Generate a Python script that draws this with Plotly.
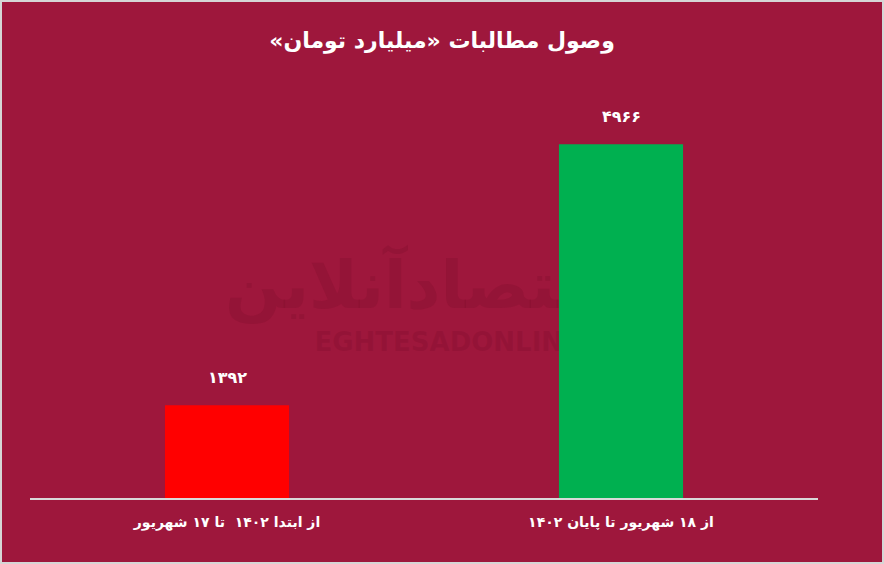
import plotly.graph_objects as go

# ---- data ----
categories = ["از ابتدا ۱۴۰۲  تا ۱۷ شهریور", "از ۱۸ شهریور تا پایان ۱۴۰۲"]
values = [1392, 4966]
bar_colors = ["#FF0000", "#00B050"]
title_text = "وصول مطالبات «میلیارد تومان»"
watermark_fa = "اقتصادآنلاین"
watermark_en = "EGHTESADONLINE"

FA_DIGITS = str.maketrans("0123456789", "۰۱۲۳۴۵۶۷۸۹")
def fa(n):
    return str(n).translate(FA_DIGITS)

RLM = "\u200f"
BG = "#9E173C"
FONT = "DejaVu Sans"
W, H = 884, 564
ML, MR, MT, MB = 30, 66, 100, 66
pw, ph = W - ML - MR, H - MT - MB

fig = go.Figure()

# watermark (behind bars, on the base subplot)
fig.add_trace(go.Scatter(
    x=[0.5, 0.53], y=[0.52, 0.385], mode="text",
    text=["<b>" + watermark_fa + "</b>", "<b>" + watermark_en + "</b>"],
    textfont=dict(family=FONT, size=[66, 26], color="rgba(120,10,40,0.25)"),
    hoverinfo="skip", showlegend=False, xaxis="x", yaxis="y",
))

# bars (overlay subplot, drawn above)
fig.add_trace(go.Bar(
    x=categories, y=values, marker=dict(color=bar_colors, line=dict(width=0)),
    xaxis="x2", yaxis="y2", showlegend=False, hoverinfo="skip",
))

for c, v in zip(categories, values):
    fig.add_annotation(
        x=c, y=v, xref="x2", yref="y2", text="<b>" + fa(v) + "</b>",
        showarrow=False, yshift=28, yanchor="middle",
        font=dict(family=FONT, size=16, color="white"),
    )

# border around the whole image
fig.add_shape(
    type="rect", xref="paper", yref="paper",
    x0=(-ML + 1) / pw, x1=(pw + MR - 1) / pw,
    y0=(-MB + 1) / ph, y1=(ph + MT - 1) / ph,
    line=dict(color="#D6D6D6", width=2), fillcolor="rgba(0,0,0,0)", layer="above",
)

fig.update_layout(
    width=W, height=H,
    margin=dict(l=ML, r=MR, t=MT, b=MB, pad=0),
    paper_bgcolor=BG, plot_bgcolor=BG,
    title=dict(text="<b>" + RLM + title_text + RLM + "</b>", x=0.5, xanchor="center",
               xref="container", y=1 - 40 / H, yref="container", yanchor="middle",
               font=dict(family=FONT, size=22, color="white")),
    xaxis=dict(range=[0, 1], visible=False, fixedrange=True),
    yaxis=dict(range=[0, 1], visible=False, fixedrange=True),
    xaxis2=dict(overlaying="x", anchor="y2", type="category",
                showline=True, linecolor="#D9D9D9", linewidth=2,
                showgrid=False, zeroline=False, ticks="",
                ticklabelstandoff=10,
                tickvals=categories,
                ticktext=["<b>" + RLM + c + RLM + "</b>" for c in categories],
                tickfont=dict(family=FONT, size=14, color="white")),
    yaxis2=dict(overlaying="y", anchor="x2", range=[123, 5573],
                visible=False, showgrid=False, zeroline=False),
    bargap=0.685,
    font=dict(family=FONT),
)

fig.write_html("out.html", config={"displayModeBar": False},
               post_script="document.body.style.margin='0px';document.body.style.overflow='hidden';")
